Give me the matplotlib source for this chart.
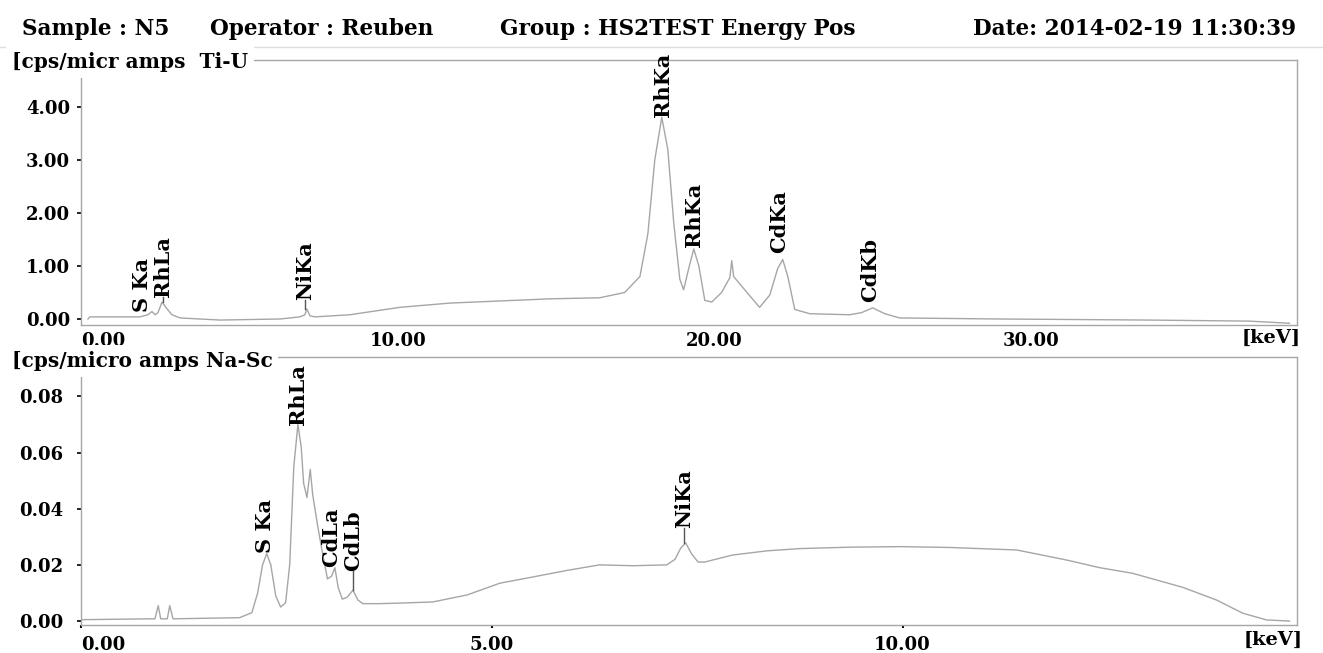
import numpy as np
import matplotlib
matplotlib.use("Agg")
import matplotlib.pyplot as plt

plt.rcParams['font.family'] = ['DejaVu Serif']
plt.rcParams['font.weight'] = 'bold'

# Espectro superior (Ti-U), energía en keV y cps/micro amps
e_alto = [0.22, 0.28, 1.86, 2.11, 2.24, 2.34, 2.43, 2.56, 2.68, 2.87, 3.13, 4.39,
          6.28, 6.91, 7.07, 7.13, 7.23, 7.39, 8.49, 10.07, 11.65, 13.23, 14.80,
          16.38, 17.17, 17.65, 17.90, 18.12, 18.34, 18.53, 18.72, 18.91, 19.03,
          19.19, 19.35, 19.51, 19.70, 19.92, 20.23, 20.49, 20.55, 20.61, 20.96,
          21.43, 21.75, 22.00, 22.16, 22.32, 22.54, 23.01, 24.27, 24.65, 25.00,
          25.38, 25.85, 29.01, 33.74, 36.90, 38.16]
c_alto = [0.00, 0.04, 0.04, 0.08, 0.14, 0.08, 0.12, 0.32, 0.22, 0.08, 0.02, -0.02,
          0.00, 0.04, 0.08, 0.19, 0.06, 0.04, 0.08, 0.22, 0.30, 0.34, 0.38,
          0.40, 0.50, 0.80, 1.60, 3.00, 3.80, 3.20, 1.80, 0.75, 0.55,
          0.95, 1.32, 1.00, 0.35, 0.32, 0.50, 0.78, 1.10, 0.80, 0.55,
          0.22, 0.45, 0.95, 1.12, 0.80, 0.18, 0.10, 0.08, 0.12, 0.21,
          0.10, 0.02, 0.00, -0.02, -0.04, -0.08]

# Espectro inferior (Na-Sc)
e_bajo = [0.02, 0.84, 0.90, 0.94, 0.97, 1.05, 1.08, 1.12, 1.93, 2.08, 2.15, 2.21,
          2.26, 2.31, 2.37, 2.43, 2.49, 2.54, 2.59, 2.64, 2.68, 2.71, 2.75, 2.79,
          2.82, 2.88, 2.94, 3.00, 3.05, 3.09, 3.13, 3.18, 3.24, 3.31, 3.37, 3.43,
          3.64, 3.88, 4.28, 4.70, 5.10, 5.50, 5.91, 6.31, 6.72, 7.13, 7.23, 7.30,
          7.36, 7.43, 7.51, 7.59, 7.93, 8.35, 8.75, 9.36, 9.96, 10.57, 11.39,
          12.00, 12.40, 12.80, 13.41, 13.82, 14.14, 14.43, 14.71]
c_bajo = [0.0005, 0.0008, 0.0008, 0.0055, 0.0008, 0.0008, 0.0055, 0.0008, 0.0012,
          0.003, 0.010, 0.020, 0.024, 0.020, 0.009, 0.005, 0.0065, 0.020, 0.055,
          0.070, 0.062, 0.049, 0.044, 0.054, 0.045, 0.034, 0.024, 0.015, 0.016,
          0.019, 0.012, 0.0078, 0.0085, 0.011, 0.0075, 0.0062, 0.0062, 0.0064,
          0.0068, 0.0093, 0.0135, 0.0157, 0.018, 0.020, 0.0197, 0.020, 0.022,
          0.026, 0.0278, 0.024, 0.021, 0.021, 0.0235, 0.0250, 0.0258, 0.0263,
          0.0265, 0.0262, 0.0253, 0.0217, 0.019, 0.017, 0.012, 0.0075, 0.0028,
          0.0004, 0.0]

# Etiquetas de picos: texto, energía, altura de la etiqueta y altura del pico
pico_alto_txt = ['S Ka', 'RhLa', 'NiKa', 'RhKa', 'RhKa', 'CdKa', 'CdKb']
pico_alto_e = [1.93, 2.59, 7.07, 18.37, 19.35, 22.06, 24.91]
pico_alto_c = [0.13, 0.41, 0.36, 3.80, 1.36, 1.24, 0.32]
pico_alto_tope = [0.13, 0.32, 0.19, 3.80, 1.36, 1.24, 0.32]

pico_bajo_txt = ['S Ka', 'RhLa', 'CdLa', 'CdLb', 'NiKa']
pico_bajo_e = [2.24, 2.64, 3.05, 3.31, 7.34]
pico_bajo_c = [0.0242, 0.0698, 0.0192, 0.018, 0.033]
pico_bajo_tope = [0.0242, 0.0698, 0.0192, 0.011, 0.0278]

# Marcas de ejes
xt_alto = [0, 10, 20, 30]
yt_alto = [0, 1, 2, 3, 4]
xt_bajo = [0, 5, 10]
yt_bajo = [0, 0.02, 0.04, 0.06, 0.08]

W, H = 1323, 653
fig = plt.figure(figsize=(W / 100, H / 100), dpi=100)


def caja(x0, y0, x1, y1):
    # convierte pixeles (origen arriba-izquierda) a fracción de figura
    return [x0 / W, 1 - y1 / H, (x1 - x0) / W, (y1 - y0) / H]


gris = '#a6a6a6'

# Encabezado
enc = [('Sample : N5', 22), ('Operator : Reuben', 210),
       ('Group : HS2TEST Energy Pos', 500), ('Date: 2014-02-19 11:30:39', 973)]
for txt, px in enc:
    fig.text(px / W, 1 - 29 / H, txt, fontsize=15.6, ha='left', va='center')
fig.add_artist(plt.Line2D([0, 1], [1 - 47 / H, 1 - 47 / H], color='#dcdcdc', lw=1))

ax1 = fig.add_axes(caja(81, 60, 1297, 325))
ax2 = fig.add_axes(caja(81, 357, 1297, 625))

ax1.plot(e_alto, c_alto, color=gris, lw=1)
ax2.plot(e_bajo, c_bajo, color=gris, lw=1)

ax1.set_xlim(0, 38.4)
ax1.set_ylim(-0.113, 4.88)
ax2.set_xlim(0, 14.8)
ax2.set_ylim(-0.0014, 0.094)

for ax in (ax1, ax2):
    for s in ax.spines.values():
        s.set_color(gris)
        s.set_linewidth(1)

ax1.set_xticks(xt_alto)
ax1.set_xticklabels(['%.2f' % v for v in xt_alto])
ax1.set_yticks(yt_alto)
ax1.set_yticklabels(['%.2f' % v for v in yt_alto])
ax1.tick_params(axis='x', length=0, pad=5, labelsize=13)
ax1.tick_params(axis='y', length=3, width=1.2, pad=5, labelsize=13)

ax2.set_xticks(xt_bajo)
ax2.set_xticklabels(['%.2f' % v for v in xt_bajo])
ax2.set_yticks(yt_bajo)
ax2.set_yticklabels(['%.2f' % v for v in yt_bajo])
ax2.tick_params(axis='x', length=2, width=1.5, pad=6, labelsize=13)
ax2.tick_params(axis='y', length=3, width=1.2, pad=10, labelsize=13)

for ax in (ax1, ax2):
    ax.get_xticklabels()[0].set_ha('left')

# Etiquetas de picos con su línea hasta el pico
for t, e, c, p in zip(pico_alto_txt, pico_alto_e, pico_alto_c, pico_alto_tope):
    ax1.text(e, c, t, rotation=90, ha='center', va='bottom', fontsize=15)
    if c > p:
        ax1.plot([e, e], [p, c], color='#555555', lw=1)
for t, e, c, p in zip(pico_bajo_txt, pico_bajo_e, pico_bajo_c, pico_bajo_tope):
    ax2.text(e, c, t, rotation=90, ha='center', va='bottom', fontsize=15)
    if c > p:
        ax2.plot([e, e], [p, c], color='#555555', lw=1)

# Títulos de los ejes y unidades
fig.text(12 / W, 1 - 62 / H, '[cps/micr amps  Ti-U', fontsize=14.5, ha='left', va='center',
         bbox=dict(facecolor='white', edgecolor='none', pad=4))
fig.text(12 / W, 1 - 361 / H, '[cps/micro amps Na-Sc', fontsize=14.5, ha='left', va='center',
         bbox=dict(facecolor='white', edgecolor='none', pad=4))
fig.text(1301 / W, 1 - 338 / H, '[keV]', fontsize=14, ha='right', va='center')
fig.text(1303 / W, 1 - 640 / H, '[keV]', fontsize=14, ha='right', va='center')

fig.savefig('out.png', dpi=100)
